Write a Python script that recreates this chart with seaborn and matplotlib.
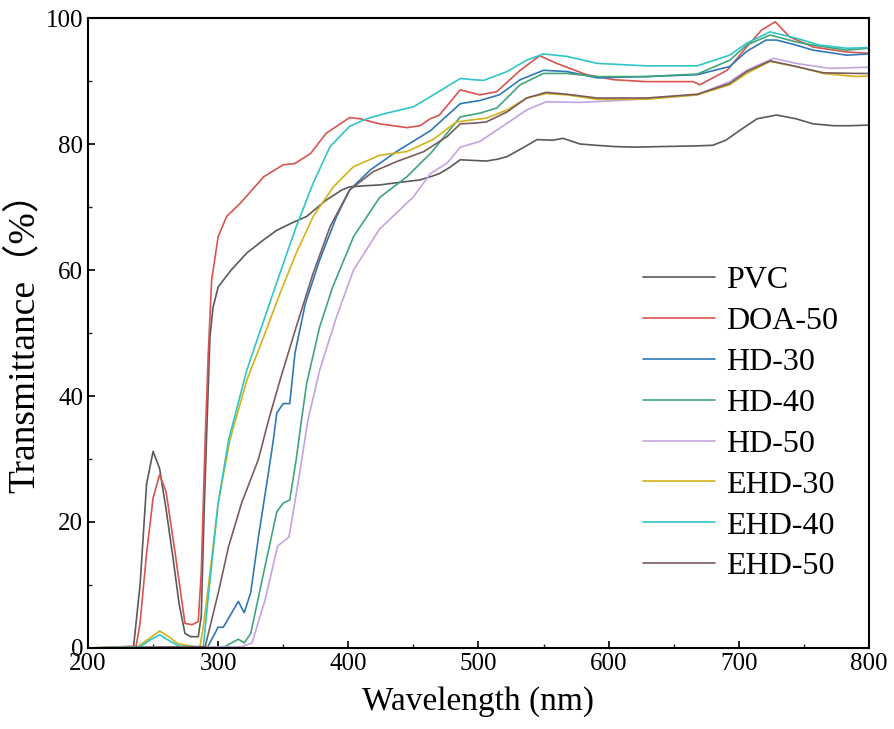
import numpy as np
import pandas as pd
import matplotlib
matplotlib.use("Agg")
import matplotlib.pyplot as plt
from matplotlib.ticker import MultipleLocator
import seaborn as sns

series_names = ["PVC", "DOA-50", "HD-30", "HD-40", "HD-50", "EHD-30", "EHD-40", "EHD-50"]

wl_pvc = [200, 225, 235, 240, 245, 250, 255, 260, 265.5, 270, 274.5, 279, 284.7, 287, 289, 291, 293.7, 296, 300,
          310, 322, 335, 345, 358, 368, 383, 395, 401, 415, 424, 435, 455, 463, 470, 478, 486, 495, 506, 515, 522,
          535, 545, 557, 565, 578, 590, 604, 620, 642, 668, 680, 690, 701, 714, 729, 744, 757, 773, 785, 800]
t_pvc = [0, 0, 0.2, 10, 26, 31.2, 28.5, 22, 14, 7, 2.3, 1.8, 1.8, 5, 20, 33, 49.4, 54, 57.3,
         60, 62.7, 64.8, 66.3, 67.6, 68.5, 71.1, 72.7, 73.2, 73.4, 73.5, 73.8, 74.3, 74.8, 75.3, 76.3, 77.5, 77.4,
         77.3, 77.6, 78, 79.5, 80.7, 80.6, 80.9, 80, 79.8, 79.6, 79.5, 79.6, 79.7, 79.8, 80.6, 82.2, 84, 84.6, 84,
         83.2, 82.9, 82.9, 83]

wl_doa = [200, 237, 240, 245, 250, 255, 260, 267, 274.5, 280, 284.7, 287, 290, 292.4, 295, 300, 306.5, 317, 335,
          350, 359, 371, 383, 401, 409, 424, 445, 455, 463, 470, 486, 501, 514, 532, 547, 560, 583, 604, 629, 665,
          670, 691, 706, 717.5, 728, 739, 757, 783, 800]
t_doa = [0, 0.3, 4, 15, 23.8, 27.5, 24.8, 15, 3.9, 3.7, 4.2, 12, 33, 46.8, 58.4, 65.3, 68.5, 70.6, 74.8,
         76.7, 76.9, 78.5, 81.7, 84.2, 84, 83.2, 82.6, 82.9, 84, 84.6, 88.6, 87.8, 88.3, 91.7, 94, 92.8, 91, 90.2,
         89.9, 89.9, 89.4, 91.7, 95.4, 98.1, 99.4, 97, 95.4, 94.6, 94.4]

wl_hd30 = [200, 292, 300, 304, 315.5, 320, 325, 331, 338, 342.4, 345, 350, 355, 359, 367, 378, 391, 401, 417, 437,
           463, 486, 501, 516, 532, 550, 568, 591, 629, 668, 693, 706, 721, 729, 744, 757, 783, 800]
t_hd30 = [0, 0.2, 3.3, 3.3, 7.4, 5.6, 8.8, 17.7, 27, 33, 37.3, 38.8, 38.8, 46.8, 54.7, 61.6, 68.5, 72.7, 75.9, 78.8,
          82.1, 86.4, 86.9, 87.8, 90.2, 91.7, 91.5, 90.5, 90.7, 91, 92.3, 94.7, 96.5, 96.5, 95.7, 94.9, 94.1, 94.3]

wl_hd40 = [200, 305, 315.5, 320, 325, 335, 345, 350, 355, 360, 364, 368, 378, 388, 404, 424, 445, 464, 486, 501,
           514, 532, 550, 568, 591, 629, 668, 693, 706, 724, 744, 757, 783, 800]
t_hd40 = [0, 0.2, 1.4, 0.8, 2.3, 12, 21.6, 23, 23.5, 30, 36.2, 42, 51, 57.3, 65.3, 71.5, 74.8, 78.7, 84.3, 84.9,
          85.7, 89.4, 91.2, 91.2, 90.7, 90.7, 91.1, 93.3, 95.7, 97.3, 96.2, 95.7, 94.9, 95.2]

wl_hd50 = [200, 318, 326, 336, 345.7, 354.4, 362, 369, 378, 391, 404, 424, 450, 463, 476, 486, 501, 522, 537, 552,
           578, 616, 668, 693, 706, 726.5, 744, 770, 800]
t_hd50 = [0, 0.2, 0.8, 7.6, 16.2, 17.6, 27, 36.2, 44.1, 52.6, 60, 66.5, 71.6, 75.3, 77, 79.5, 80.4, 83.3, 85.4,
          86.7, 86.6, 87, 87.8, 89.9, 91.7, 93.6, 92.8, 92, 92.2]

wl_ehd30 = [200, 238, 247, 255, 262, 269, 282, 286, 289, 292.4, 300, 309, 322, 335, 347.5, 360, 373, 388.5, 404,
            424, 445, 465, 483, 494, 506, 522, 537, 552, 568, 591, 629, 668, 693, 706, 724, 744, 765, 790, 800]
t_ehd30 = [0, 0.2, 1.5, 2.7, 1.8, 0.7, 0.2, 0.2, 4, 9.7, 23, 33, 42.5, 49.4, 56.3, 62.7, 68.5, 73.2, 76.4,
           78.2, 78.8, 80.7, 83.5, 83.8, 84.1, 85.4, 87.3, 88, 87.8, 87.1, 87.1, 87.8, 89.4, 91.2, 93.1, 92.3,
           91.2, 90.7, 90.8]

wl_ehd40 = [200, 240, 248, 255, 262, 270, 288.6, 292.4, 300, 308, 322, 335, 347.5, 360, 373, 386, 401, 414, 429.5,
            450, 463, 486, 496, 504, 522, 537, 550, 568, 591, 629, 668, 693, 706, 724, 744, 762, 783, 800]
t_ehd40 = [0, 0.2, 1.3, 2.1, 1.2, 0.3, 0.2, 8.1, 23, 33, 44.1, 52, 59.5, 66.9, 73.8, 79.6, 82.8, 84, 84.9,
           85.9, 87.5, 90.4, 90.2, 90.1, 91.5, 93.3, 94.3, 93.9, 92.8, 92.4, 92.4, 94.1, 96, 97.8, 96.8, 95.7,
           95.2, 95.3]

wl_ehd50 = [200, 290, 300, 308, 318, 331, 338.5, 347.5, 360, 373, 386, 401, 419, 437, 458, 476, 486, 496, 506,
            522, 537, 552, 568, 591, 629, 668, 693, 706, 724, 744, 765, 790, 800]
t_ehd50 = [0, 0.2, 8.7, 16.1, 23, 30, 36, 42.5, 51, 59.5, 66.9, 72.7, 75.6, 77.2, 78.8, 81.2, 83.2, 83.3, 83.5,
           85.1, 87.3, 88.2, 87.9, 87.3, 87.3, 87.9, 89.6, 91.5, 93.2, 92.3, 91.3, 91.2, 91.2]

x_ticks = [200, 300, 400, 500, 600, 700, 800]
y_ticks = [0, 20, 40, 60, 80, 100]

colors = ["#5a5a5a", "#d9534f", "#2f78b8", "#3fa57a", "#c3a3e0", "#d2b21a", "#2fc5c8", "#7a5c5c"]

all_wl = [wl_pvc, wl_doa, wl_hd30, wl_hd40, wl_hd50, wl_ehd30, wl_ehd40, wl_ehd50]
all_t = [t_pvc, t_doa, t_hd30, t_hd40, t_hd50, t_ehd30, t_ehd40, t_ehd50]

frames = []
for name, w, t in zip(series_names, all_wl, all_t):
    frames.append(pd.DataFrame({"wl": w, "T": t, "sample": name}))
df = pd.concat(frames, ignore_index=True)

sns.set_theme(style="ticks")
plt.rcParams["font.family"] = ["Liberation Serif", "Noto Sans CJK SC"]
plt.rcParams["text.color"] = "black"
plt.rcParams["axes.labelcolor"] = "black"

fig = plt.figure(figsize=(8.95, 7.29), dpi=100)
ax = fig.add_axes([88 / 895, 81 / 729, 781 / 895, 630 / 729])

sns.lineplot(data=df, x="wl", y="T", hue="sample", hue_order=series_names,
             palette=dict(zip(series_names, colors)), estimator=None, sort=False,
             linewidth=1.2, ax=ax)

ax.set_xlim(200, 800)
ax.set_ylim(0, 100)
ax.set_xticks(x_ticks)
ax.set_yticks(y_ticks)
ax.xaxis.set_minor_locator(MultipleLocator(50))
ax.yaxis.set_minor_locator(MultipleLocator(10))
ax.tick_params(axis="both", which="major", direction="in", length=5, width=1.2, labelsize=18,
               colors="black", labelcolor="black")
ax.tick_params(axis="both", which="minor", direction="in", length=3, width=1.0)
for s in ax.spines.values():
    s.set_visible(True)
    s.set_linewidth(1.5)
    s.set_color("black")

ax.set_xlabel("Wavelength (nm)", fontsize=24, labelpad=8, color="black")
ax.set_ylabel("Transmittance（%）", fontsize=27, labelpad=3, color="black")

leg = ax.legend(loc="upper left", bbox_to_anchor=(643 / 895, 1 - 266 / 729),
                bbox_transform=fig.transFigure, frameon=False, fontsize=23,
                handlelength=2.25, handletextpad=0.35, labelspacing=0.36,
                borderpad=0, borderaxespad=0)
for line in leg.get_lines():
    line.set_linewidth(1.2)

fig.savefig("out.png", dpi=100)
